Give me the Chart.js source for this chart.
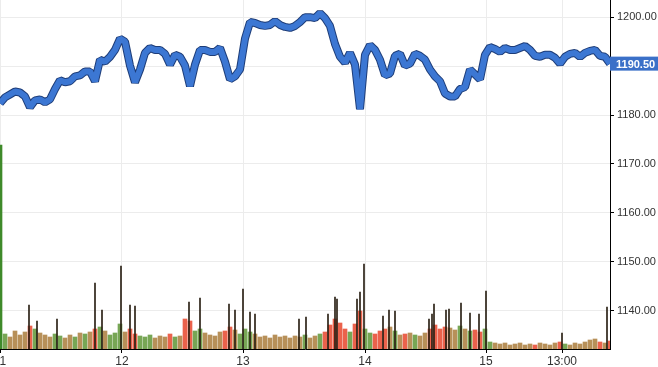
<!DOCTYPE html>
<html>
<head>
<meta charset="utf-8">
<title>Price</title>
<script src="https://cdn.jsdelivr.net/npm/chart.js@4.4.0/dist/chart.umd.min.js"></script>
<style>
  body { margin: 0; background: #fff; }
  #wrap { width: 658px; height: 367px; }
</style>
</head>
<body>
<div id="wrap"><canvas id="chart" width="658" height="367"></canvas></div>
<script>
// price, one sample per step (day 11 -> day 15 afternoon)
const price = [
  1182.4, 1183.6, 1184.2, 1184.8, 1184.6, 1183.8, 1181.6, 1183.0, 1183.2, 1182.6,
  1183.2, 1185.3, 1187.1, 1186.7, 1186.9, 1187.9, 1188.1, 1188.9, 1188.9, 1186.9,
  1191.3, 1190.9, 1191.9, 1193.3, 1195.6, 1195.0, 1190.1, 1186.7, 1189.3, 1192.7,
  1193.7, 1193.3, 1193.3, 1192.5, 1190.3, 1192.3, 1191.9, 1190.1, 1185.9, 1190.3,
  1193.3, 1193.3, 1192.9, 1192.9, 1193.7, 1190.9, 1187.3, 1187.9, 1189.3, 1195.6,
  1199.0, 1198.8, 1198.4, 1198.2, 1198.4, 1199.2, 1198.4, 1198.0, 1197.8, 1198.2,
  1199.0, 1200.0, 1200.0, 1199.8, 1200.8, 1199.8, 1198.2, 1194.5, 1191.9, 1190.7,
  1192.7, 1190.3, 1181.2, 1192.3, 1194.3, 1193.3, 1191.3, 1188.1, 1188.5, 1192.1,
  1192.5, 1190.1, 1190.5, 1192.5, 1192.1, 1191.3, 1189.3, 1187.9, 1186.9, 1184.4,
  1183.8, 1183.8, 1185.3, 1185.7, 1189.3, 1188.3, 1187.3, 1192.3, 1193.9, 1193.5,
  1192.9, 1193.7, 1193.3, 1193.3, 1193.7, 1194.1, 1193.3, 1192.1, 1191.9, 1192.3,
  1192.3, 1191.7, 1190.5, 1191.9, 1192.5, 1192.7, 1191.9, 1192.7, 1193.1, 1193.3,
  1192.1, 1191.9, 1190.5
];

// volume on the same steps
const volume = [
  2040,
  150, 120, 180, 140, 170, 230, 200, 160, 140, 120,
  150, 130, 110, 140, 120, 160, 150, 170, 200, 220,
  180, 140, 160, 250, 170, 200, 150, 130, 120, 140,
  110, 130, 120, 150, 120, 130, 300, 280, 180, 200,
  160, 140, 130, 170, 180, 220, 190, 150, 200, 170,
  150, 120, 130, 110, 140, 120, 130, 110, 130, 120,
  140, 110, 130, 150, 170, 240, 300, 260, 200, 170,
  250, 380, 200, 160, 150, 180, 200, 220, 180, 140,
  150, 160, 140, 130, 160, 200, 240, 200, 220, 210,
  190, 230, 200, 180, 190, 170, 200, 70, 60, 50,
  60, 40, 50, 60, 40, 50, 40, 60, 50, 40,
  60, 70, 50, 40, 60, 50, 70, 90, 100, 70,
  60, 80
];

// the tall single prints
const spikeTimes = [5.8, 7.4, 11.4, 19, 20.4, 24.2, 26, 27, 37.8, 40, 45.8, 47, 48.6, 50, 51,
  59.8, 61.2, 65.6, 67, 67.4, 71.4, 72, 72.8, 76.6, 77.8, 79, 85.8, 86.4, 86.8, 89.2, 89.8,
  92.2, 94, 95.8, 97.2, 112.4, 121.4];
const spikeVols = [440, 280, 300, 660, 390, 830, 440, 430, 470, 510, 450, 390, 600, 370, 350,
  300, 320, 350, 520, 500, 500, 570, 850, 330, 390, 380, 300, 350, 450, 390, 400,
  460, 360, 350, 580, 160, 420];

const dayTicks = [0, 24.4, 48.6, 73, 97.2, 112.4];
const dayLabels = ['11', '12', '13', '14', '15', '13:00'];
const priceTicks = [1140, 1150, 1160, 1170, 1180, 1190, 1200];

const family = "Arial, 'Liberation Sans', sans-serif";

const volColors = volume.map((v, i) => {
  if (i === 0) return '#3f8a2a';
  const d = price[i] - price[i - 1];
  if (d > 0.8) return 'rgba(95,150,55,0.85)';
  if (d < -0.8) return 'rgba(232,70,45,0.85)';
  return 'rgba(170,125,60,0.85)';
});

// blue box with the last price on the right axis
const lastPriceBox = {
  id: 'lastPriceBox',
  afterDraw(chart) {
    const ctx = chart.ctx;
    const last = price[price.length - 1];
    const y = chart.scales.y.getPixelForValue(last);
    const x = chart.chartArea.right;
    ctx.save();
    ctx.fillStyle = '#3b70c8';
    ctx.fillRect(x, y - 7, chart.width - x, 14);
    ctx.fillStyle = '#fff';
    ctx.font = 'bold 11px ' + family;
    ctx.textBaseline = 'middle';
    ctx.fillText(last.toFixed(2), x + 6, y + 1);
    ctx.restore();
  }
};

new Chart(document.getElementById('chart'), {
  type: 'line',
  data: {
    datasets: [
      {
        data: price.map((v, i) => ({ x: i, y: v })),
        borderColor: '#3c77d3',
        borderWidth: 6,
        borderJoinStyle: 'bevel',
        pointRadius: 0,
        yAxisID: 'y',
        order: 1
      },
      {
        data: price.map((v, i) => ({ x: i, y: v })),
        borderColor: '#1e3d78',
        borderWidth: 8,
        borderJoinStyle: 'bevel',
        pointRadius: 0,
        yAxisID: 'y',
        order: 2
      },
      {
        type: 'bar',
        data: spikeTimes.map((t, i) => ({ x: t, y: spikeVols[i] })),
        backgroundColor: '#2a2014',
        barThickness: 1,
        grouped: false,
        yAxisID: 'yv',
        order: 3
      },
      {
        type: 'bar',
        data: volume.map((v, i) => ({ x: i, y: v })),
        backgroundColor: volColors,
        barThickness: 4,
        grouped: false,
        yAxisID: 'yv',
        order: 4
      }
    ]
  },
  options: {
    responsive: false,
    animation: false,
    devicePixelRatio: 1,
    layout: { padding: 0 },
    plugins: { legend: { display: false }, tooltip: { enabled: false } },
    scales: {
      x: {
        type: 'linear',
        offset: false,
        min: 0,
        max: 122,
        grid: { color: '#ececec', tickColor: '#000', tickLength: 4, offset: false },
        border: { color: '#000' },
        ticks: {
          color: '#333',
          font: { size: 12, family: family },
          padding: 1,
          maxRotation: 0,
          autoSkip: false,
          callback: (v, i) => dayLabels[i]
        },
        afterBuildTicks: s => { s.ticks = dayTicks.map(v => ({ value: v })); },
        afterFit: s => { s.height = 18; s.paddingLeft = 0; s.paddingRight = 0; }
      },
      y: {
        position: 'right',
        min: 1132.2,
        max: 1203.5,
        grid: { color: '#ececec', tickColor: '#000', tickLength: 4 },
        border: { color: '#000' },
        ticks: {
          color: '#333',
          font: { size: 11, family: family },
          padding: 3,
          callback: v => v.toFixed(2)
        },
        afterBuildTicks: s => { s.ticks = priceTicks.map(v => ({ value: v })); },
        afterFit: s => { s.width = 48; s.paddingTop = 0; s.paddingBottom = 0; }
      },
      yv: { display: false, min: 0, max: 3490 }
    }
  },
  plugins: [lastPriceBox]
});
</script>
</body>
</html>
